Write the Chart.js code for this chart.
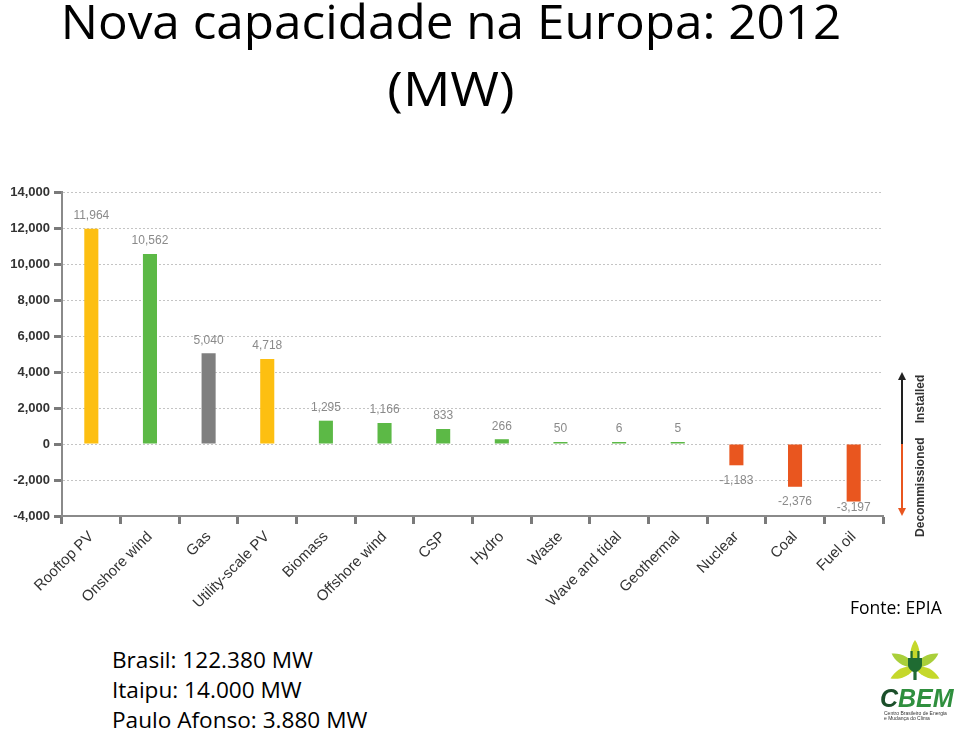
<!DOCTYPE html>
<html>
<head>
<meta charset="utf-8">
<script src="https://cdn.jsdelivr.net/npm/chart.js@4.4.1/dist/chart.umd.min.js"></script>
<style>
  body { margin: 0; background: #fff; }
  #slide { position: relative; width: 960px; height: 733px; overflow: hidden; font-family: "Open Sans", sans-serif; color: #000; }
  .title { position: absolute; left: 0; width: 902px; text-align: center; font-size: 48px; line-height: 1; white-space: nowrap; }
  #chartBox { position: absolute; left: 0; top: 180px; width: 960px; height: 440px; }
  #fonte { position: absolute; left: 850px; top: 595px; font-size: 17.5px; white-space: nowrap; }
  #notes { position: absolute; left: 112px; top: 645px; font-size: 22.6px; line-height: 30px; white-space: nowrap; }
  #logo { position: absolute; left: 876px; top: 640px; }
</style>
</head>
<body>
<div id="slide">
  <div class="title" style="top:-3px; transform: scaleX(1.03)">Nova capacidade na Europa: 2012</div>
  <div class="title" style="top:64px; transform: scaleX(1.1)">(MW)</div>
  <div id="chartBox"><canvas id="barChart"></canvas></div>
  <div id="fonte">Fonte: EPIA</div>
  <div id="notes">Brasil: 122.380 MW<br>Itaipu: 14.000 MW<br>Paulo Afonso: 3.880 MW</div>
  <svg id="logo" width="84" height="90" viewBox="0 0 84 90">
    <g transform="translate(39,27)">
      <path d="M0,0 C-7,-9 -5,-20 0,-27 C5,-20 7,-9 0,0Z" fill="#c5d82b"/>
      <path d="M0,0 C-7,-9 -5,-20 0,-27 C5,-20 7,-9 0,0Z" fill="#a9cf3a" transform="rotate(-60)"/>
      <path d="M0,0 C-7,-9 -5,-20 0,-27 C5,-20 7,-9 0,0Z" fill="#a9cf3a" transform="rotate(60)"/>
      <path d="M0,0 C-7,-9 -5,-20 0,-27 C5,-20 7,-9 0,0Z" fill="#c5d82b" transform="rotate(-115)"/>
      <path d="M0,0 C-7,-9 -5,-20 0,-27 C5,-20 7,-9 0,0Z" fill="#c5d82b" transform="rotate(115)"/>
      <rect x="-4.5" y="-16" width="2.2" height="8" fill="#1f6b32"/>
      <rect x="2.3" y="-16" width="2.2" height="8" fill="#1f6b32"/>
      <path d="M-7,-9 H7 V-2 C7,2 2,5 1.6,5 V13 H-1.6 V5 C-2,5 -7,2 -7,-2Z" fill="#1f6b32"/>
    </g>
    <text x="4" y="67" font-family="Liberation Sans" font-weight="bold" font-style="italic" font-size="25" fill="#1b4f2a">C<tspan fill="#2f8f3e">BEM</tspan></text>
    <text x="8" y="75" font-family="Liberation Sans" font-size="5" fill="#333">Centro Brasileiro de Energia</text>
    <text x="8" y="80" font-family="Liberation Sans" font-size="5" fill="#333">e Mudança do Clima</text>
  </svg>
</div>
<script>
// categories and values
const categories = [
  "Rooftop PV",
  "Onshore wind",
  "Gas",
  "Utility-scale PV",
  "Biomass",
  "Offshore wind",
  "CSP",
  "Hydro",
  "Waste",
  "Wave and tidal",
  "Geothermal",
  "Nuclear",
  "Coal",
  "Fuel oil",
];
const capacityMW = [11964, 10562, 5040, 4718, 1295, 1166, 833, 266, 50, 6, 5, -1183, -2376, -3197];
const barColours = [
  "#fdbf11", "#5cb946", "#7f7f7f", "#fdbf11", "#5cb946", "#5cb946", "#5cb946",
  "#5cb946", "#5cb946", "#5cb946", "#5cb946", "#e9561f", "#e9561f", "#e9561f",
];
const yMin = -4000;
const yMax = 14000;
const yStep = 2000;

// numbers over / under the bars
const valueLabels = {
  id: "valueLabels",
  afterDatasetsDraw(chart) {
    const ctx = chart.ctx;
    const meta = chart.getDatasetMeta(0);
    const floor = chart.chartArea.bottom - 8;
    ctx.save();
    ctx.font = '12px "Liberation Sans"';
    ctx.fillStyle = "#8a8a8a";
    ctx.textAlign = "center";
    ctx.textBaseline = "middle";
    meta.data.forEach((bar, i) => {
      const v = capacityMW[i];
      const y = v >= 0 ? bar.y - 13 : Math.min(bar.y + 15, floor);
      ctx.fillText(v.toLocaleString("en-US"), bar.x, y);
    });
    ctx.restore();
  },
};

// installed / decommissioned arrow at the right
const sideArrow = {
  id: "sideArrow",
  afterDraw(chart) {
    const ctx = chart.ctx;
    const y = chart.scales.y;
    const x = chart.chartArea.right + 19;
    const top = y.getPixelForValue(4000);
    const zero = y.getPixelForValue(0);
    const bottom = y.getPixelForValue(-4000);
    ctx.save();
    ctx.lineWidth = 2;
    ctx.strokeStyle = "#222";
    ctx.beginPath();
    ctx.moveTo(x, zero);
    ctx.lineTo(x, top + 6);
    ctx.stroke();
    ctx.fillStyle = "#222";
    ctx.beginPath();
    ctx.moveTo(x, top);
    ctx.lineTo(x - 4, top + 8);
    ctx.lineTo(x + 4, top + 8);
    ctx.fill();
    ctx.strokeStyle = "#e9561f";
    ctx.beginPath();
    ctx.moveTo(x, zero);
    ctx.lineTo(x, bottom - 6);
    ctx.stroke();
    ctx.fillStyle = "#e9561f";
    ctx.beginPath();
    ctx.moveTo(x, bottom);
    ctx.lineTo(x - 4, bottom - 8);
    ctx.lineTo(x + 4, bottom - 8);
    ctx.fill();

    ctx.fillStyle = "#333";
    ctx.font = 'bold 12px "Liberation Sans"';
    ctx.textAlign = "center";
    ctx.textBaseline = "middle";
    ctx.translate(x + 19, 0);
    ctx.rotate(-Math.PI / 2);
    ctx.fillText("Installed", -y.getPixelForValue(2500), 0);
    ctx.fillText("Decommissioned", -y.getPixelForValue(-2400), 0);
    ctx.restore();
  },
};

const ctx = document.getElementById("barChart").getContext("2d");
const myChart = new Chart(ctx, {
  type: "bar",
  data: {
    labels: categories,
    datasets: [
      {
        label: "MW",
        data: capacityMW,
        backgroundColor: barColours,
        borderWidth: 0,
        barPercentage: 0.24,
        categoryPercentage: 1,
        minBarLength: 2,
      },
    ],
  },
  options: {
    responsive: true,
    maintainAspectRatio: false,
    animation: false,
    layout: { padding: { top: 12, right: 77, left: 0, bottom: 0 } },
    plugins: {
      legend: { display: false },
      tooltip: { enabled: false },
    },
    scales: {
      x: {
        afterFit(scale) {
          scale.height = 104;
        },
        grid: {
          drawOnChartArea: false,
          tickLength: 8,
          tickColor: "#7a7a7a",
          tickWidth: 3,
        },
        border: { color: "#8a8a8a", width: 2 },
        ticks: {
          maxRotation: 45,
          minRotation: 45,
          padding: 4,
          color: "#333",
          font: { family: "Liberation Sans", size: 15 },
        },
      },
      y: {
        min: yMin,
        max: yMax,
        afterFit(scale) {
          scale.width = 62;
        },
        grid: {
          color: "#c4c4c4",
          tickLength: 8,
          tickColor: "#7a7a7a",
          tickWidth: 3,
        },
        border: { color: "#8a8a8a", width: 2, dash: [2, 2] },
        ticks: {
          stepSize: yStep,
          padding: 4,
          color: "#333",
          font: { family: "Liberation Sans", size: 13, weight: "bold" },
        },
      },
    },
  },
  plugins: [valueLabels, sideArrow],
});
</script>
</body>
</html>
